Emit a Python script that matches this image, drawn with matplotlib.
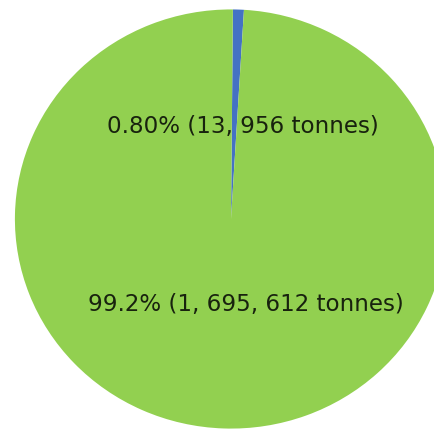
import matplotlib
matplotlib.use("Agg")
import matplotlib.pyplot as plt

# -- Data
categories = ["Other", "Main"]
tonnes = [13956, 1695612]
pct_labels = ["0.80%", "99.2%"]
ton_labels = ["13, 956", "1, 695, 612"]
colors = ["#4472C4", "#92D050"]

fig = plt.figure(figsize=(4.35, 4.29), dpi=100)
ax = fig.add_axes([0, 0, 1, 1])

wedges, _ = ax.pie(tonnes, colors=colors, startangle=89.5, counterclock=False,
                   wedgeprops=dict(linewidth=0))

# -- Labels
label_pos = [(0.056, 0.44), (0.07, -0.41)]
for lab_pct, lab_t, (x, y) in zip(pct_labels, ton_labels, label_pos):
    ax.text(x, y, "{} ({} tonnes)".format(lab_pct, lab_t), ha="center", va="center",
            fontsize=16.6, family="DejaVu Sans", color="#18220e")

# picture is slightly stretched horizontally
ax.set_xlim(-1.069, 0.944)
ax.set_ylim(-1.002, 1.045)
ax.set_aspect("auto")
ax.axis("off")

fig.savefig("out.png", dpi=100)
